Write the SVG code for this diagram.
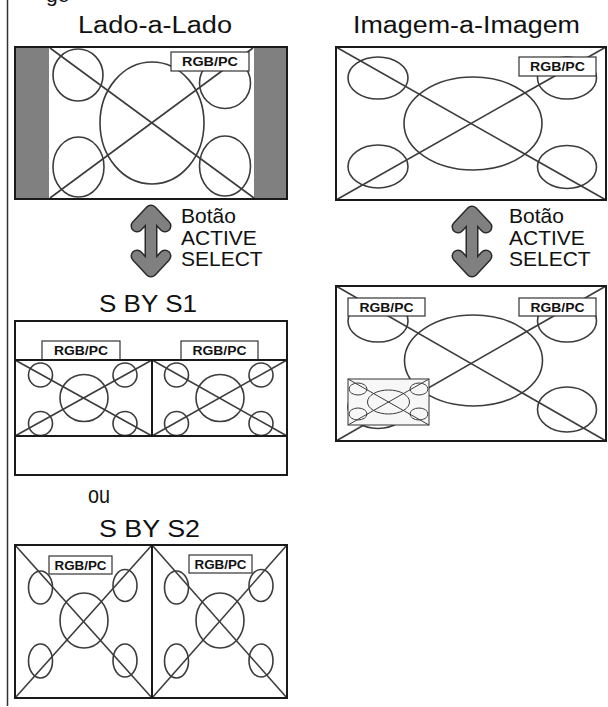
<svg xmlns="http://www.w3.org/2000/svg" width="608" height="707" viewBox="0 0 608 707">
<style>
.bg{fill:#fff;stroke:none}
.fr{fill:none;stroke:#1a1a1a;stroke-width:2}
.ln{fill:none;stroke:#3c3c3c;stroke-width:1.6}
.ln2{fill:none;stroke:#3c3c3c;stroke-width:1}
.lbl{fill:#fff;stroke:#333;stroke-width:1.2}
.lt{font-family:"Liberation Sans",Arial,sans-serif;font-weight:bold;font-size:12.5px;fill:#111;text-anchor:middle}
.tt{font-family:"Liberation Sans",Arial,sans-serif;font-size:23px;fill:#111;text-anchor:middle}
.bt{font-family:"Liberation Sans",Arial,sans-serif;font-size:21px;fill:#111}
.aro{fill:none;stroke:#2a2a2a;stroke-width:13;stroke-linecap:round;stroke-linejoin:round}
.ari{fill:none;stroke:#808080;stroke-width:10;stroke-linecap:round;stroke-linejoin:round}
</style>
<rect width="608" height="707" fill="#fff"/>
<line x1="7.5" y1="0" x2="7.5" y2="706" stroke="#333" stroke-width="1.5"/>
<text class="bt" x="46" y="1.5">ge</text>

<g id="lado">
<text class="tt" x="155" y="32.5" textLength="154" lengthAdjust="spacingAndGlyphs">Lado-a-Lado</text>
<rect class="bg" x="15" y="47" width="272" height="152"/>
<rect x="15" y="47" width="34" height="152" fill="#808080"/>
<rect x="254" y="47" width="33" height="152" fill="#808080"/>
<line class="ln" x1="50" y1="48" x2="254" y2="198"/>
<line class="ln" x1="50" y1="198" x2="253" y2="48"/>
<ellipse class="ln" cx="152" cy="123" rx="52" ry="61"/>
<ellipse class="ln" cx="78" cy="75" rx="25" ry="26"/>
<ellipse class="ln" cx="225" cy="83" rx="25.5" ry="25.5"/>
<ellipse class="ln" cx="78.5" cy="167" rx="25.5" ry="30"/>
<ellipse class="ln" cx="225" cy="166" rx="25.5" ry="30"/>
<rect class="lbl" x="171" y="52" width="78" height="19"/>
<text class="lt" x="210" y="66" textLength="56" lengthAdjust="spacingAndGlyphs">RGB/PC</text>
<rect class="fr" x="15" y="47" width="272" height="152"/>
</g>

<g id="imagem">
<text class="tt" x="466.5" y="33" textLength="227" lengthAdjust="spacingAndGlyphs">Imagem-a-Imagem</text>
<rect class="bg" x="336" y="47" width="270" height="153"/>
<line class="ln" x1="336" y1="47" x2="606" y2="200"/>
<line class="ln" x1="336" y1="200" x2="606" y2="47"/>
<ellipse class="ln" cx="473" cy="123.5" rx="69" ry="46.5"/>
<ellipse class="ln" cx="378" cy="78" rx="30" ry="21"/>
<ellipse class="ln" cx="567" cy="78" rx="29.5" ry="21"/>
<ellipse class="ln" cx="378" cy="166.5" rx="30" ry="21.5"/>
<ellipse class="ln" cx="567" cy="167" rx="29.5" ry="21.5"/>
<rect class="lbl" x="519" y="57" width="77" height="19"/>
<text class="lt" x="557.5" y="71" textLength="55" lengthAdjust="spacingAndGlyphs">RGB/PC</text>
<rect class="fr" x="336" y="47" width="270" height="153"/>
</g>

<g id="arrow-left">
<path class="aro" d="M151,211 V271 M137,226 L151,211 L165,226 M137,256 L151,271 L165,256"/>
<path class="ari" d="M151,211 V271 M137,226 L151,211 L165,226 M137,256 L151,271 L165,256"/>
<text class="bt" x="181" y="223">Botão</text>
<text class="bt" x="181" y="245">ACTIVE</text>
<text class="bt" x="181" y="266">SELECT</text>
</g>

<g id="arrow-right">
<path class="aro" d="M472,212 V271 M458,227 L472,212 L486,227 M458,256 L472,271 L486,256"/>
<path class="ari" d="M472,212 V271 M458,227 L472,212 L486,227 M458,256 L472,271 L486,256"/>
<text class="bt" x="509" y="223">Botão</text>
<text class="bt" x="509" y="245">ACTIVE</text>
<text class="bt" x="509" y="266">SELECT</text>
</g>

<g id="sbys1">
<text class="tt" x="148" y="312" textLength="98" lengthAdjust="spacingAndGlyphs">S BY S1</text>
<rect class="bg" x="15" y="321" width="272" height="154"/>
<line class="ln" x1="15" y1="360" x2="152" y2="436"/>
<line class="ln" x1="15" y1="436" x2="152" y2="360"/>
<line class="ln" x1="152" y1="360" x2="287" y2="436"/>
<line class="ln" x1="152" y1="436" x2="287" y2="360"/>
<ellipse class="ln" cx="84" cy="398" rx="24" ry="23.5"/>
<ellipse class="ln" cx="40.5" cy="375" rx="12" ry="12"/>
<ellipse class="ln" cx="125" cy="375" rx="12" ry="12"/>
<ellipse class="ln" cx="40.5" cy="423.5" rx="12" ry="12"/>
<ellipse class="ln" cx="125" cy="423.5" rx="12" ry="12"/>
<ellipse class="ln" cx="220" cy="398" rx="24" ry="23.5"/>
<ellipse class="ln" cx="176.5" cy="375" rx="12" ry="12"/>
<ellipse class="ln" cx="261" cy="375" rx="12" ry="12"/>
<ellipse class="ln" cx="176.5" cy="423.5" rx="12" ry="12"/>
<ellipse class="ln" cx="261" cy="423.5" rx="12" ry="12"/>
<rect class="lbl" x="42" y="341" width="78" height="19"/>
<text class="lt" x="81" y="355" textLength="54" lengthAdjust="spacingAndGlyphs">RGB/PC</text>
<rect class="lbl" x="181" y="341" width="77" height="19"/>
<text class="lt" x="219.5" y="355" textLength="54" lengthAdjust="spacingAndGlyphs">RGB/PC</text>
<rect class="fr" x="15" y="321" width="272" height="154"/>
<rect class="fr" x="15" y="360" width="137" height="76"/>
<rect class="fr" x="152" y="360" width="135" height="76"/>
</g>

<g id="pip">
<rect class="bg" x="336" y="286" width="270" height="155"/>
<line class="ln" x1="336" y1="286" x2="606" y2="441"/>
<line class="ln" x1="336" y1="441" x2="606" y2="286"/>
<ellipse class="ln" cx="473.5" cy="360.5" rx="69" ry="45.5"/>
<ellipse class="ln" cx="378" cy="321" rx="30" ry="21"/>
<ellipse class="ln" cx="567" cy="321" rx="29.5" ry="21"/>
<ellipse class="ln" cx="378" cy="407" rx="30" ry="21.5"/>
<ellipse class="ln" cx="567" cy="409.5" rx="29.5" ry="22.5"/>
<rect class="lbl" x="348" y="298" width="77" height="18"/>
<text class="lt" x="386.5" y="312" textLength="54" lengthAdjust="spacingAndGlyphs">RGB/PC</text>
<rect class="lbl" x="519" y="298" width="77" height="18"/>
<text class="lt" x="557.5" y="312" textLength="54" lengthAdjust="spacingAndGlyphs">RGB/PC</text>
<rect x="348" y="379" width="81" height="46" fill="#f7f7f7" stroke="#333" stroke-width="1"/>
<line class="ln2" x1="348" y1="379" x2="429" y2="425"/>
<line class="ln2" x1="348" y1="425" x2="429" y2="379"/>
<ellipse class="ln2" cx="388.5" cy="402" rx="21" ry="12"/>
<ellipse class="ln2" cx="358" cy="389" rx="9" ry="6"/>
<ellipse class="ln2" cx="419" cy="389" rx="9" ry="6"/>
<ellipse class="ln2" cx="358" cy="414" rx="9" ry="6"/>
<ellipse class="ln2" cx="419" cy="414" rx="9" ry="6"/>
<rect class="fr" x="336" y="286" width="270" height="155"/>
</g>

<g id="sbys2">
<text class="tt" x="99" y="503" textLength="22" lengthAdjust="spacingAndGlyphs">ou</text>
<text class="tt" x="149.5" y="537" textLength="101" lengthAdjust="spacingAndGlyphs">S BY S2</text>
<rect class="bg" x="15" y="545" width="272" height="153"/>
<line class="ln" x1="15" y1="545" x2="152" y2="698"/>
<line class="ln" x1="15" y1="698" x2="152" y2="545"/>
<line class="ln" x1="152" y1="545" x2="287" y2="698"/>
<line class="ln" x1="152" y1="698" x2="287" y2="545"/>
<ellipse class="ln" cx="84" cy="620.5" rx="24" ry="27.5"/>
<ellipse class="ln" cx="40.5" cy="587.5" rx="12" ry="16.5"/>
<ellipse class="ln" cx="125" cy="585.5" rx="12" ry="16"/>
<ellipse class="ln" cx="40.5" cy="661" rx="12" ry="17"/>
<ellipse class="ln" cx="125" cy="660.5" rx="12" ry="16.5"/>
<ellipse class="ln" cx="220" cy="620.5" rx="24" ry="27.5"/>
<ellipse class="ln" cx="176.5" cy="587.5" rx="12" ry="16.5"/>
<ellipse class="ln" cx="261" cy="585.5" rx="12" ry="16"/>
<ellipse class="ln" cx="176.5" cy="661" rx="12" ry="17"/>
<ellipse class="ln" cx="261" cy="660.5" rx="12" ry="16.5"/>
<rect class="lbl" x="49" y="556" width="63" height="18"/>
<text class="lt" x="80.5" y="570" textLength="52" lengthAdjust="spacingAndGlyphs">RGB/PC</text>
<rect class="lbl" x="189" y="555" width="63" height="18"/>
<text class="lt" x="220.5" y="569" textLength="52" lengthAdjust="spacingAndGlyphs">RGB/PC</text>
<rect class="fr" x="15" y="545" width="272" height="153"/>
<line class="fr" x1="152" y1="545" x2="152" y2="698"/>
</g>
</svg>
